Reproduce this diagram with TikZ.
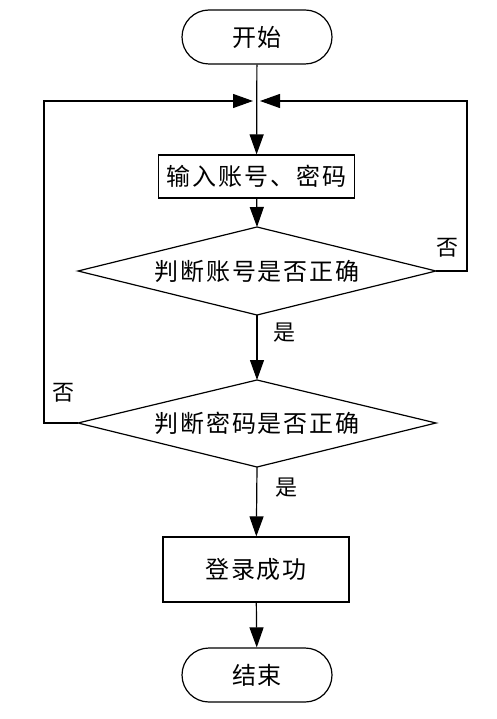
\documentclass[tikz,border=0pt]{standalone}
\usepackage{fontspec}
\setmainfont{Noto Sans CJK SC}[LetterSpace=8]
\usetikzlibrary{arrows.meta,shapes.misc}
\begin{document}
\begin{tikzpicture}[x=1pt,y=-1pt,
  line width=1.2pt,
  every node/.style={font=\fontsize{24}{26}\selectfont, inner sep=0pt},
  term/.style={draw, rounded rectangle, minimum width=150pt, minimum height=54pt},
  proc/.style={draw, rectangle},
  lbl/.style={font=\fontsize{22}{24}\selectfont},
  arr/.style={-{Triangle[length=20pt,width=14pt]}},
  dia/.style={draw, line join=miter}
]
\useasboundingbox (0,0) rectangle (497,719);
% nodes
\node[term] (start) at (257,37) {开始};
\coordinate (J) at (257,101);
\coordinate (Jl) at (253,101);
\coordinate (Jr) at (260,101);
\node[proc, minimum width=196pt, minimum height=43pt] (input) at (256.5,176.5) {输入账号、密码};
% diamond 1
\coordinate (d1n) at (257,227);
\coordinate (d1s) at (257,315);
\coordinate (d1w) at (78,271);
\coordinate (d1e) at (436,271);
\draw[dia] (d1n) -- (d1e) -- (d1s) -- (d1w) -- cycle;
\node (d1) at (257,271) {判断账号是否正确};
% diamond 2
\coordinate (d2n) at (257,380);
\coordinate (d2s) at (257,467);
\coordinate (d2w) at (78,423);
\coordinate (d2e) at (436,423);
\draw[dia] (d2n) -- (d2e) -- (d2s) -- (d2w) -- cycle;
\node (d2) at (257,423) {判断密码是否正确};
\node[proc, minimum width=186pt, minimum height=65pt] (ok) at (256,569.5) {登录成功};
\node[term] (end) at (257,675) {结束};
% corners
\coordinate (r1) at (467,271);
\coordinate (r2) at (467,101);
\coordinate (l1) at (44,423);
\coordinate (l2) at (44,101);
% connectors
\draw[arr] (start) -- (input);
\draw[arr] (input) -- (d1n);
\draw[arr] (d1s) -- (d2n);
\draw[arr] (d2s) -- (ok);
\draw[arr] (ok) -- (end);
\draw[arr] (d1e) -- (r1) -- (r2) -- (Jr);
\draw[arr] (d2w) -- (l1) -- (l2) -- (Jl);
% labels
\node[lbl] (no1) at (447,248) {否};
\node[lbl] (no2) at (63,393) {否};
\node[lbl] (yes1) at (284,333) {是};
\node[lbl] (yes2) at (286,488) {是};
\end{tikzpicture}
\end{document}
